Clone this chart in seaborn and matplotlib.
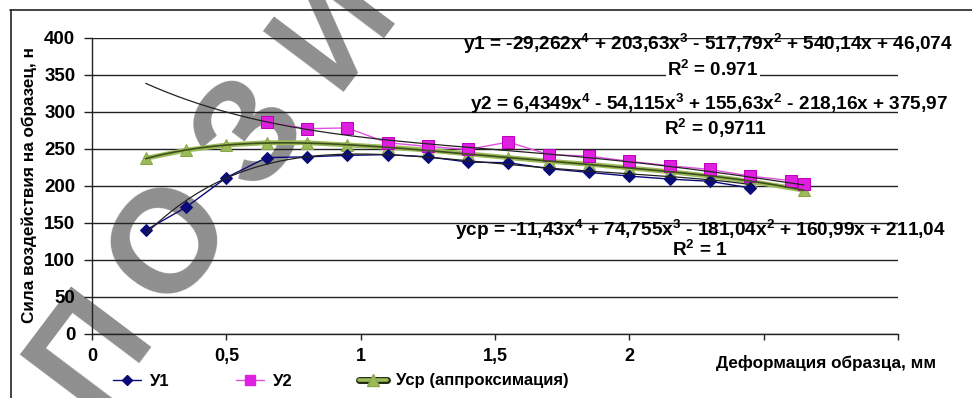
import numpy as np
import pandas as pd
import seaborn as sns
import matplotlib.pyplot as plt
from matplotlib.lines import Line2D

# ---- measured data -------------------------------------------------------
x_y1 = [0.2, 0.35, 0.5, 0.65, 0.8, 0.95, 1.1, 1.25, 1.4, 1.55, 1.7, 1.85, 2.0, 2.15, 2.3, 2.45]
y1 = [140, 171, 211, 238, 239, 241, 242, 239, 232, 231, 223, 218, 213, 209, 206, 197]

x_y2 = [0.65, 0.8, 0.95, 1.1, 1.25, 1.4, 1.55, 1.7, 1.85, 2.0, 2.15, 2.3, 2.45, 2.6, 2.65]
y2 = [286, 277, 278, 258, 253, 249, 259, 242, 240, 233, 227, 222, 213, 207, 202]

x_ycp = [0.2, 0.35, 0.5, 0.65, 0.8, 0.95, 1.1, 1.25, 1.4, 1.55, 1.7, 1.85, 2.0, 2.15, 2.3, 2.45, 2.65]
ycp = [237, 248, 255, 258, 258, 255, 252, 248, 243, 238, 233, 229, 224, 219, 213, 206, 194]

# polynomial trend coefficients (highest power first), as printed on the chart
coef_y1 = [-29.262, 203.63, -517.79, 540.14, 46.074]
coef_y2 = [6.4349, -54.115, 155.63, -218.16, 375.97]
coef_ycp = [-11.43, 74.755, -181.04, 160.99, 211.04]

x_ticks = [0, 0.5, 1.0, 1.5, 2.0, 2.5, 3.0]
x_ticklabels = ["0", "0,5", "1", "1,5", "2", "", ""]
y_ticks = [0, 50, 100, 150, 200, 250, 300, 350, 400]

WATERMARK = "РЕПОЗИТОРИЙ"

# ---- style ---------------------------------------------------------------
sns.set_theme(style="white")
plt.rcParams["font.family"] = ["Liberation Sans", "DejaVu Sans"]
plt.rcParams["text.color"] = "black"
plt.rcParams["mathtext.fontset"] = "custom"
plt.rcParams["mathtext.rm"] = "Liberation Sans:bold"
plt.rcParams["mathtext.it"] = "Liberation Sans:bold"
plt.rcParams["mathtext.bf"] = "Liberation Sans:bold"
plt.rcParams["mathtext.default"] = "rm"

W, H = 972, 398
fig = plt.figure(figsize=(W / 100, H / 100), dpi=100)
fig.patch.set_facecolor("white")

def fx(px):
    return px / W

def fy(py):
    return 1 - py / H

ax = fig.add_axes([fx(92), fy(334), fx(898) - fx(92), fy(37.5) - fy(334)])
ax.set_facecolor("white")
ax.set_axisbelow("line")

# outer chart frame (top and left edges)
fig.add_artist(Line2D([fx(10), 1.0], [fy(10), fy(10)], color="#222222", lw=1.2))
fig.add_artist(Line2D([fx(11), fx(11)], [fy(10), 0.0], color="#222222", lw=1.2))

# ---- series --------------------------------------------------------------
NAVY = "#0a0a78"
MAGENTA = "#e020e0"
GREEN = "#9bbb59"
DKGREEN = "#3d4f1c"

d1 = pd.DataFrame({"x": x_y1, "y": y1})
d2 = pd.DataFrame({"x": x_y2, "y": y2})
d3 = pd.DataFrame({"x": x_ycp, "y": ycp})

# average series: thick green line with triangles
sns.lineplot(data=d3, x="x", y="y", ax=ax, color=GREEN, lw=3.5, marker="^",
             markersize=8, markeredgecolor="#8aa84a", markerfacecolor=GREEN,
             zorder=3, estimator=None, sort=False)
sns.lineplot(data=d2, x="x", y="y", ax=ax, color="#e050e0", lw=1.0, marker="s",
             markersize=8, markeredgecolor="#c000c0", markerfacecolor=MAGENTA,
             zorder=4, estimator=None, sort=False)
sns.lineplot(data=d1, x="x", y="y", ax=ax, color=NAVY, lw=1.0, marker="D",
             markersize=6, markeredgecolor=NAVY, markerfacecolor=NAVY,
             zorder=5, estimator=None, sort=False)

# trend curves from the printed equations
t1 = np.linspace(min(x_y1), max(x_y1), 200)
t2 = np.linspace(0.2, max(x_y2), 200)
t3 = np.linspace(min(x_ycp), max(x_ycp), 200)
sns.lineplot(x=t1, y=np.polyval(coef_y1, t1), ax=ax, color="#222222", lw=0.9, zorder=6)
sns.lineplot(x=t2, y=np.polyval(coef_y2, t2), ax=ax, color="#222222", lw=0.9, zorder=6)
sns.lineplot(x=t3, y=np.polyval(coef_ycp, t3), ax=ax, color=DKGREEN, lw=1.2, zorder=6)

# ---- axes ----------------------------------------------------------------
ax.set_xlim(0, 3)
ax.set_ylim(0, 400)
ax.set_xticks(x_ticks)
ax.set_xticklabels(x_ticklabels)
ax.set_yticks(y_ticks)
ax.set_yticklabels([str(v) for v in y_ticks])
for lab in ax.get_xticklabels():
    lab.set_fontweight("bold")
    lab.set_fontsize(13)
for lab in ax.get_yticklabels():
    lab.set_fontweight("bold")
    lab.set_fontsize(13.5)
ax.tick_params(axis="x", direction="out", length=4, width=1, color="#222222", pad=6,
               labelcolor="black")
ax.tick_params(axis="y", direction="out", length=6, width=1, color="#222222", pad=6,
               labelcolor="black")
ax.xaxis.set_ticks_position("bottom")
ax.yaxis.set_ticks_position("left")
ax.yaxis.grid(True, color="#222222", lw=1.0)
ax.xaxis.grid(False)
for s in ["top", "right"]:
    ax.spines[s].set_visible(False)
for s in ["left", "bottom"]:
    ax.spines[s].set_color("#222222")
    ax.spines[s].set_linewidth(1.0)
ax.set_xlabel("")
ax.set_ylabel("")

fig.text(fx(826), fy(363), "Деформация образца, мм", ha="center", va="center",
         fontsize=12.3, fontweight="bold")
fig.text(fx(29), fy(185), "Сила воздействия на образец, н", ha="center", va="center",
         rotation=90, fontsize=12.3, fontweight="bold")

# ---- equations -----------------------------------------------------------
eq_kw = dict(fontsize=13.7, fontweight="bold", color="black", va="center", ha="left", zorder=8)
fig.text(fx(463), fy(44), "y1 = -29,262x$^4$ + 203,63x$^3$ - 517,79x$^2$ + 540,14x + 46,074", **eq_kw)
fig.text(fx(667), fy(70), "R$^2$ = 0.971", fontsize=13.5, fontweight="bold", va="center",
         ha="left", zorder=8, bbox=dict(facecolor="white", edgecolor="none", pad=1))
fig.text(fx(470), fy(104), "y2 = 6,4349x$^4$ - 54,115x$^3$ + 155,63x$^2$ - 218,16x + 375,97", **eq_kw)
fig.text(fx(664), fy(128), "R$^2$ = 0,9711", **eq_kw)
fig.text(fx(455), fy(230), "yср = -11,43x$^4$ + 74,755x$^3$ - 181,04x$^2$ + 160,99x + 211,04", **eq_kw)
fig.text(fx(672), fy(250), "R$^2$ = 1", **eq_kw)

# ---- legend --------------------------------------------------------------
handles = [
    Line2D([], [], color=NAVY, lw=1.0, marker="D", markersize=5, markerfacecolor=NAVY),
    Line2D([], [], color="#e050e0", lw=1.0, marker="s", markersize=7, markerfacecolor=MAGENTA,
           markeredgecolor=MAGENTA),
    (Line2D([], [], color="#1e2a10", lw=5.0),
     Line2D([], [], color=GREEN, lw=2.6, marker="^", markersize=8, markerfacecolor=GREEN,
            markeredgecolor="#8aa84a")),
]
labels = ["У1", "У2", "Уср (аппроксимация)"]
leg = fig.legend(handles, labels, loc="center left", bbox_to_anchor=(fx(98), fy(381)),
                 ncol=3, frameon=False, handlelength=1.7, handletextpad=0.5,
                 columnspacing=4.0, prop=dict(weight="bold", size=12))

# ---- repository watermark: letters laid along a slanted baseline ---------
angle = 53.0
pitch = 135.0          # px between letter centres
anchor_idx, anchor_xy = 3, (173.0, 243.0)   # centre of the first "О"
ca, sa = np.cos(np.radians(angle)), np.sin(np.radians(angle))
for i, ch in enumerate(WATERMARK):
    px = anchor_xy[0] + (i - anchor_idx) * pitch * ca
    py = anchor_xy[1] - (i - anchor_idx) * pitch * sa
    ax.text(fx(px), fy(py), ch, transform=fig.transFigure, rotation=angle,
            ha="center", va="center", fontsize=105, fontweight="bold",
            color="#8f8f8f", zorder=1, clip_on=False, rotation_mode="anchor")

fig.savefig("out.png", dpi=100, facecolor="white")
